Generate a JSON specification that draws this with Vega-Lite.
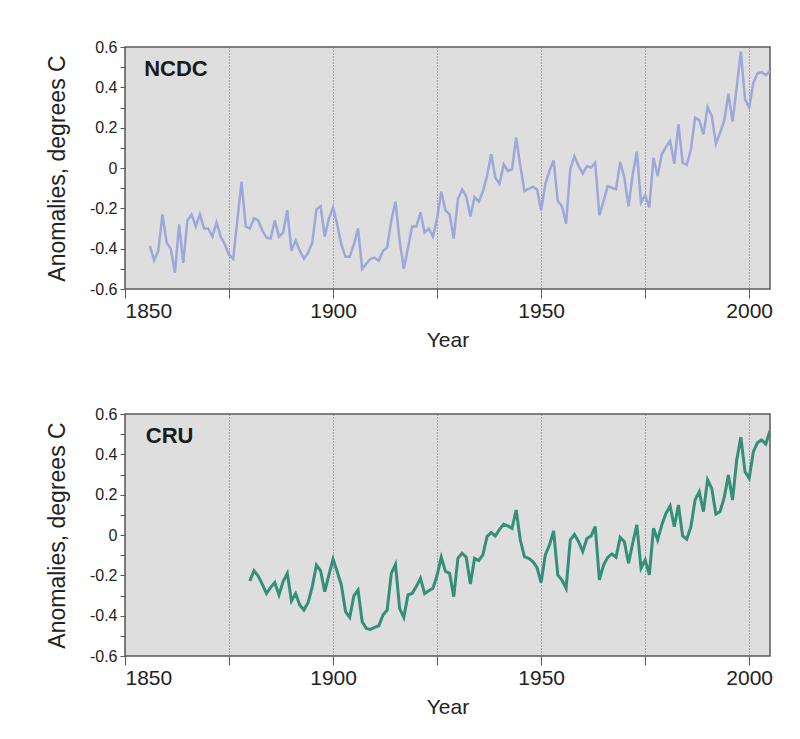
{
  "$schema": "https://vega.github.io/schema/vega-lite/v6.json",
  "background": "white",
  "padding": {"left": 45, "top": 38, "right": 0, "bottom": 0},
  "spacing": 54,
  "datasets": {
    "ncdc": [
      {"year": 1856, "anomaly": -0.387}, {"year": 1857, "anomaly": -0.458}, {"year": 1858, "anomaly": -0.41}, {"year": 1859, "anomaly": -0.23},
      {"year": 1860, "anomaly": -0.37}, {"year": 1861, "anomaly": -0.40}, {"year": 1862, "anomaly": -0.52}, {"year": 1863, "anomaly": -0.28},
      {"year": 1864, "anomaly": -0.47}, {"year": 1865, "anomaly": -0.26}, {"year": 1866, "anomaly": -0.23}, {"year": 1867, "anomaly": -0.29},
      {"year": 1868, "anomaly": -0.23}, {"year": 1869, "anomaly": -0.30}, {"year": 1870, "anomaly": -0.30}, {"year": 1871, "anomaly": -0.34},
      {"year": 1872, "anomaly": -0.27}, {"year": 1873, "anomaly": -0.34}, {"year": 1874, "anomaly": -0.38}, {"year": 1875, "anomaly": -0.43},
      {"year": 1876, "anomaly": -0.45}, {"year": 1877, "anomaly": -0.26}, {"year": 1878, "anomaly": -0.068}, {"year": 1879, "anomaly": -0.29},
      {"year": 1880, "anomaly": -0.30}, {"year": 1881, "anomaly": -0.25}, {"year": 1882, "anomaly": -0.26}, {"year": 1883, "anomaly": -0.31},
      {"year": 1884, "anomaly": -0.345}, {"year": 1885, "anomaly": -0.35}, {"year": 1886, "anomaly": -0.26}, {"year": 1887, "anomaly": -0.34},
      {"year": 1888, "anomaly": -0.32}, {"year": 1889, "anomaly": -0.21}, {"year": 1890, "anomaly": -0.41}, {"year": 1891, "anomaly": -0.36},
      {"year": 1892, "anomaly": -0.41}, {"year": 1893, "anomaly": -0.45}, {"year": 1894, "anomaly": -0.42}, {"year": 1895, "anomaly": -0.37},
      {"year": 1896, "anomaly": -0.205}, {"year": 1897, "anomaly": -0.19}, {"year": 1898, "anomaly": -0.34}, {"year": 1899, "anomaly": -0.25},
      {"year": 1900, "anomaly": -0.197}, {"year": 1901, "anomaly": -0.28}, {"year": 1902, "anomaly": -0.38}, {"year": 1903, "anomaly": -0.44},
      {"year": 1904, "anomaly": -0.44}, {"year": 1905, "anomaly": -0.38}, {"year": 1906, "anomaly": -0.30}, {"year": 1907, "anomaly": -0.50},
      {"year": 1908, "anomaly": -0.475}, {"year": 1909, "anomaly": -0.45}, {"year": 1910, "anomaly": -0.445}, {"year": 1911, "anomaly": -0.46},
      {"year": 1912, "anomaly": -0.41}, {"year": 1913, "anomaly": -0.395}, {"year": 1914, "anomaly": -0.26}, {"year": 1915, "anomaly": -0.167},
      {"year": 1916, "anomaly": -0.36}, {"year": 1917, "anomaly": -0.50}, {"year": 1918, "anomaly": -0.395}, {"year": 1919, "anomaly": -0.29},
      {"year": 1920, "anomaly": -0.29}, {"year": 1921, "anomaly": -0.22}, {"year": 1922, "anomaly": -0.32}, {"year": 1923, "anomaly": -0.30},
      {"year": 1924, "anomaly": -0.34}, {"year": 1925, "anomaly": -0.25}, {"year": 1926, "anomaly": -0.117}, {"year": 1927, "anomaly": -0.21},
      {"year": 1928, "anomaly": -0.23}, {"year": 1929, "anomaly": -0.35}, {"year": 1930, "anomaly": -0.155}, {"year": 1931, "anomaly": -0.106},
      {"year": 1932, "anomaly": -0.14}, {"year": 1933, "anomaly": -0.24}, {"year": 1934, "anomaly": -0.144}, {"year": 1935, "anomaly": -0.167},
      {"year": 1936, "anomaly": -0.117}, {"year": 1937, "anomaly": -0.04}, {"year": 1938, "anomaly": 0.068}, {"year": 1939, "anomaly": -0.048},
      {"year": 1940, "anomaly": -0.078}, {"year": 1941, "anomaly": 0.018}, {"year": 1942, "anomaly": -0.015}, {"year": 1943, "anomaly": -0.007},
      {"year": 1944, "anomaly": 0.15}, {"year": 1945, "anomaly": 0.01}, {"year": 1946, "anomaly": -0.114}, {"year": 1947, "anomaly": -0.103},
      {"year": 1948, "anomaly": -0.094}, {"year": 1949, "anomaly": -0.106}, {"year": 1950, "anomaly": -0.21}, {"year": 1951, "anomaly": -0.08},
      {"year": 1952, "anomaly": -0.015}, {"year": 1953, "anomaly": 0.038}, {"year": 1954, "anomaly": -0.164}, {"year": 1955, "anomaly": -0.19},
      {"year": 1956, "anomaly": -0.276}, {"year": 1957, "anomaly": -0.007}, {"year": 1958, "anomaly": 0.059}, {"year": 1959, "anomaly": 0.01},
      {"year": 1960, "anomaly": -0.028}, {"year": 1961, "anomaly": 0.01}, {"year": 1962, "anomaly": 0.002}, {"year": 1963, "anomaly": 0.026},
      {"year": 1964, "anomaly": -0.235}, {"year": 1965, "anomaly": -0.164}, {"year": 1966, "anomaly": -0.09}, {"year": 1967, "anomaly": -0.098},
      {"year": 1968, "anomaly": -0.106}, {"year": 1969, "anomaly": 0.03}, {"year": 1970, "anomaly": -0.048}, {"year": 1971, "anomaly": -0.19},
      {"year": 1972, "anomaly": -0.031}, {"year": 1973, "anomaly": 0.081}, {"year": 1974, "anomaly": -0.172}, {"year": 1975, "anomaly": -0.134},
      {"year": 1976, "anomaly": -0.196}, {"year": 1977, "anomaly": 0.051}, {"year": 1978, "anomaly": -0.04}, {"year": 1979, "anomaly": 0.068},
      {"year": 1980, "anomaly": 0.104}, {"year": 1981, "anomaly": 0.134}, {"year": 1982, "anomaly": 0.021}, {"year": 1983, "anomaly": 0.217},
      {"year": 1984, "anomaly": 0.026}, {"year": 1985, "anomaly": 0.015}, {"year": 1986, "anomaly": 0.093}, {"year": 1987, "anomaly": 0.25},
      {"year": 1988, "anomaly": 0.236}, {"year": 1989, "anomaly": 0.167}, {"year": 1990, "anomaly": 0.302}, {"year": 1991, "anomaly": 0.258},
      {"year": 1992, "anomaly": 0.12}, {"year": 1993, "anomaly": 0.175}, {"year": 1994, "anomaly": 0.233}, {"year": 1995, "anomaly": 0.368},
      {"year": 1996, "anomaly": 0.23}, {"year": 1997, "anomaly": 0.40}, {"year": 1998, "anomaly": 0.577}, {"year": 1999, "anomaly": 0.34},
      {"year": 2000, "anomaly": 0.30}, {"year": 2001, "anomaly": 0.423}, {"year": 2002, "anomaly": 0.47}, {"year": 2003, "anomaly": 0.475},
      {"year": 2004, "anomaly": 0.46}, {"year": 2005, "anomaly": 0.48}
    ],
    "cru": [
      {"year": 1880, "anomaly": -0.228}, {"year": 1881, "anomaly": -0.177}, {"year": 1882, "anomaly": -0.203}, {"year": 1883, "anomaly": -0.245},
      {"year": 1884, "anomaly": -0.29}, {"year": 1885, "anomaly": -0.26}, {"year": 1886, "anomaly": -0.236}, {"year": 1887, "anomaly": -0.297},
      {"year": 1888, "anomaly": -0.231}, {"year": 1889, "anomaly": -0.19}, {"year": 1890, "anomaly": -0.327}, {"year": 1891, "anomaly": -0.29},
      {"year": 1892, "anomaly": -0.347}, {"year": 1893, "anomaly": -0.372}, {"year": 1894, "anomaly": -0.335}, {"year": 1895, "anomaly": -0.256},
      {"year": 1896, "anomaly": -0.149}, {"year": 1897, "anomaly": -0.177}, {"year": 1898, "anomaly": -0.281}, {"year": 1899, "anomaly": -0.198},
      {"year": 1900, "anomaly": -0.12}, {"year": 1901, "anomaly": -0.182}, {"year": 1902, "anomaly": -0.248}, {"year": 1903, "anomaly": -0.38},
      {"year": 1904, "anomaly": -0.408}, {"year": 1905, "anomaly": -0.302}, {"year": 1906, "anomaly": -0.273}, {"year": 1907, "anomaly": -0.43},
      {"year": 1908, "anomaly": -0.463}, {"year": 1909, "anomaly": -0.468}, {"year": 1910, "anomaly": -0.458}, {"year": 1911, "anomaly": -0.45},
      {"year": 1912, "anomaly": -0.397}, {"year": 1913, "anomaly": -0.372}, {"year": 1914, "anomaly": -0.19}, {"year": 1915, "anomaly": -0.146},
      {"year": 1916, "anomaly": -0.364}, {"year": 1917, "anomaly": -0.408}, {"year": 1918, "anomaly": -0.297}, {"year": 1919, "anomaly": -0.29},
      {"year": 1920, "anomaly": -0.256}, {"year": 1921, "anomaly": -0.215}, {"year": 1922, "anomaly": -0.29}, {"year": 1923, "anomaly": -0.276},
      {"year": 1924, "anomaly": -0.264}, {"year": 1925, "anomaly": -0.2}, {"year": 1926, "anomaly": -0.11}, {"year": 1927, "anomaly": -0.18},
      {"year": 1928, "anomaly": -0.19}, {"year": 1929, "anomaly": -0.306}, {"year": 1930, "anomaly": -0.116}, {"year": 1931, "anomaly": -0.09},
      {"year": 1932, "anomaly": -0.11}, {"year": 1933, "anomaly": -0.243}, {"year": 1934, "anomaly": -0.116}, {"year": 1935, "anomaly": -0.127},
      {"year": 1936, "anomaly": -0.099}, {"year": 1937, "anomaly": -0.008}, {"year": 1938, "anomaly": 0.012}, {"year": 1939, "anomaly": -0.005},
      {"year": 1940, "anomaly": 0.028}, {"year": 1941, "anomaly": 0.053}, {"year": 1942, "anomaly": 0.045}, {"year": 1943, "anomaly": 0.033},
      {"year": 1944, "anomaly": 0.124}, {"year": 1945, "anomaly": -0.025}, {"year": 1946, "anomaly": -0.108}, {"year": 1947, "anomaly": -0.116},
      {"year": 1948, "anomaly": -0.132}, {"year": 1949, "anomaly": -0.16}, {"year": 1950, "anomaly": -0.236}, {"year": 1951, "anomaly": -0.099},
      {"year": 1952, "anomaly": -0.05}, {"year": 1953, "anomaly": 0.02}, {"year": 1954, "anomaly": -0.198}, {"year": 1955, "anomaly": -0.223},
      {"year": 1956, "anomaly": -0.264}, {"year": 1957, "anomaly": -0.025}, {"year": 1958, "anomaly": 0.003}, {"year": 1959, "anomaly": -0.033},
      {"year": 1960, "anomaly": -0.082}, {"year": 1961, "anomaly": -0.017}, {"year": 1962, "anomaly": -0.005}, {"year": 1963, "anomaly": 0.041},
      {"year": 1964, "anomaly": -0.223}, {"year": 1965, "anomaly": -0.149}, {"year": 1966, "anomaly": -0.111}, {"year": 1967, "anomaly": -0.094},
      {"year": 1968, "anomaly": -0.111}, {"year": 1969, "anomaly": -0.012}, {"year": 1970, "anomaly": -0.033}, {"year": 1971, "anomaly": -0.14},
      {"year": 1972, "anomaly": -0.041}, {"year": 1973, "anomaly": 0.05}, {"year": 1974, "anomaly": -0.165}, {"year": 1975, "anomaly": -0.124},
      {"year": 1976, "anomaly": -0.198}, {"year": 1977, "anomaly": 0.033}, {"year": 1978, "anomaly": -0.025}, {"year": 1979, "anomaly": 0.05},
      {"year": 1980, "anomaly": 0.107}, {"year": 1981, "anomaly": 0.144}, {"year": 1982, "anomaly": 0.041}, {"year": 1983, "anomaly": 0.149},
      {"year": 1984, "anomaly": -0.005}, {"year": 1985, "anomaly": -0.021}, {"year": 1986, "anomaly": 0.041}, {"year": 1987, "anomaly": 0.174},
      {"year": 1988, "anomaly": 0.215}, {"year": 1989, "anomaly": 0.116}, {"year": 1990, "anomaly": 0.273}, {"year": 1991, "anomaly": 0.231},
      {"year": 1992, "anomaly": 0.104}, {"year": 1993, "anomaly": 0.116}, {"year": 1994, "anomaly": 0.186}, {"year": 1995, "anomaly": 0.297},
      {"year": 1996, "anomaly": 0.174}, {"year": 1997, "anomaly": 0.372}, {"year": 1998, "anomaly": 0.484}, {"year": 1999, "anomaly": 0.314},
      {"year": 2000, "anomaly": 0.281}, {"year": 2001, "anomaly": 0.413}, {"year": 2002, "anomaly": 0.458}, {"year": 2003, "anomaly": 0.471},
      {"year": 2004, "anomaly": 0.451}, {"year": 2005, "anomaly": 0.517}
    ],
    "labels": [
      {"panel": "NCDC", "year": 1854.6, "anomaly": 0.49},
      {"panel": "CRU", "year": 1855, "anomaly": 0.49}
    ],
    "zero": [{"anomaly": 0}]
  },
  "vconcat": [
    {
      "width": 645,
      "height": 242,
      "layer": [
        {
          "data": {"name": "zero"},
          "mark": {"type": "rule", "color": "#e0443c", "strokeWidth": 1},
          "encoding": {"y": {"field": "anomaly", "type": "quantitative", "scale": {"domain": [-0.6, 0.6]}}}
        },
        {
          "data": {"name": "ncdc"},
          "mark": {"type": "line", "color": "#9ea7d9", "strokeWidth": 2.5, "clip": true},
          "encoding": {
            "x": {"field": "year", "type": "quantitative"},
            "y": {"field": "anomaly", "type": "quantitative"}
          }
        },
        {
          "data": {"name": "labels"},
          "transform": [{"filter": "datum.panel == 'NCDC'"}],
          "mark": {"type": "text", "align": "left", "baseline": "middle", "fontSize": 22, "fontWeight": "bold", "font": "Liberation Sans", "color": "#1a1a1a"},
          "encoding": {
            "x": {"field": "year", "type": "quantitative"},
            "y": {"field": "anomaly", "type": "quantitative"},
            "text": {"field": "panel"}
          }
        }
      ],
      "encoding": {
        "x": {"field": "year", "type": "quantitative", "title": "Year", "scale": {"domain": [1850, 2005], "nice": false, "zero": false},
          "axis": {"values": [1850, 1875, 1900, 1925, 1950, 1975, 2000], "labelExpr": "datum.value % 50 == 0 ? '' + datum.value : ''"}},
        "y": {"field": "anomaly", "type": "quantitative", "title": "Anomalies, degrees C", "scale": {"domain": [-0.6, 0.6], "nice": false},
          "axis": {"values": [-0.6, -0.5, -0.4, -0.3, -0.2, -0.1, 0, 0.1, 0.2, 0.3, 0.4, 0.5, 0.6], "labelExpr": "abs(round(datum.value * 10)) % 2 == 0 ? (datum.value == 0 ? '0' : replace(format(datum.value, '.1f'), '\u2212', '-')) : ''"}}
      }
    },
    {
      "width": 645,
      "height": 242,
      "layer": [
        {
          "data": {"name": "zero"},
          "mark": {"type": "rule", "color": "#e0443c", "strokeWidth": 1},
          "encoding": {"y": {"field": "anomaly", "type": "quantitative", "scale": {"domain": [-0.6, 0.6]}}}
        },
        {
          "data": {"name": "cru"},
          "mark": {"type": "line", "color": "#348f78", "strokeWidth": 3, "clip": true},
          "encoding": {
            "x": {"field": "year", "type": "quantitative"},
            "y": {"field": "anomaly", "type": "quantitative"}
          }
        },
        {
          "data": {"name": "labels"},
          "transform": [{"filter": "datum.panel == 'CRU'"}],
          "mark": {"type": "text", "align": "left", "baseline": "middle", "fontSize": 22, "fontWeight": "bold", "font": "Liberation Sans", "color": "#1a1a1a"},
          "encoding": {
            "x": {"field": "year", "type": "quantitative"},
            "y": {"field": "anomaly", "type": "quantitative"},
            "text": {"field": "panel"}
          }
        }
      ],
      "encoding": {
        "x": {"field": "year", "type": "quantitative", "title": "Year", "scale": {"domain": [1850, 2005], "nice": false, "zero": false},
          "axis": {"values": [1850, 1875, 1900, 1925, 1950, 1975, 2000], "labelExpr": "datum.value % 50 == 0 ? '' + datum.value : ''"}},
        "y": {"field": "anomaly", "type": "quantitative", "title": "Anomalies, degrees C", "scale": {"domain": [-0.6, 0.6], "nice": false},
          "axis": {"values": [-0.6, -0.5, -0.4, -0.3, -0.2, -0.1, 0, 0.1, 0.2, 0.3, 0.4, 0.5, 0.6], "labelExpr": "abs(round(datum.value * 10)) % 2 == 0 ? (datum.value == 0 ? '0' : replace(format(datum.value, '.1f'), '\u2212', '-')) : ''"}}
      }
    }
  ],
  "config": {
    "font": "Liberation Sans",
    "view": {"fill": "#dedede", "stroke": "#5a5a5a", "strokeWidth": 1.5},
    "axis": {
      "labelFont": "Liberation Sans",
      "titleFont": "Liberation Sans",
      "labelColor": "#222222",
      "titleColor": "#222222",
      "titleFontWeight": "normal",
      "domainColor": "#5a5a5a",
      "tickColor": "#5a5a5a",
      "labelOverlap": false
    },
    "axisX": {
      "grid": true,
      "gridColor": "#666666",
      "gridDash": [1, 2],
      "gridWidth": 1,
      "tickSize": 9,
      "labelFontSize": 21,
      "labelPadding": 2,
      "titleFontSize": 21,
      "titlePadding": 8,
      "domain": false
    },
    "axisY": {
      "grid": false,
      "tickSize": 5,
      "labelFontSize": 16,
      "labelPadding": 3,
      "titleFontSize": 23,
      "titlePadding": 20,
      "domain": false
    }
  }
}
